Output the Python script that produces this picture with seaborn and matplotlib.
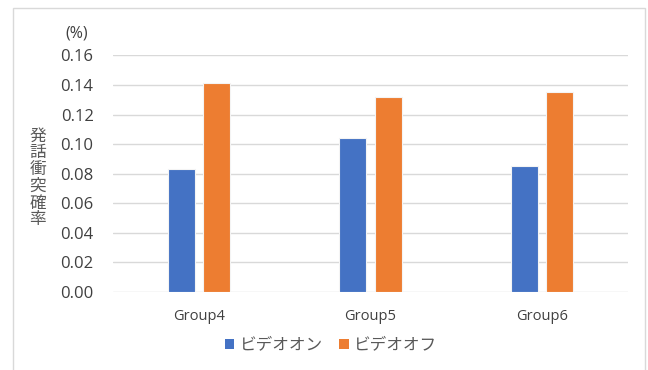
import matplotlib
matplotlib.use("Agg")
import matplotlib.pyplot as plt
from matplotlib.patches import Rectangle, Patch
import seaborn as sns
import pandas as pd

groups = ["Group4", "Group5", "Group6"]
series = ["ビデオオン", "ビデオオフ"]
video_on = [0.083, 0.104, 0.085]
video_off = [0.141, 0.132, 0.135]
yticks = [0.00, 0.02, 0.04, 0.06, 0.08, 0.10, 0.12, 0.14, 0.16]
ylabel = "発話衝突確率"
unit = "(%)"

colors = ["#4472C4", "#ED7D31"]
text_color = "#404040"
tick_color = "#595959"

df = pd.DataFrame({
    "group": groups * 2,
    "series": [series[0]] * 3 + [series[1]] * 3,
    "value": video_on + video_off,
})

sns.set_theme(style="white")
plt.rcParams["font.family"] = ["Open Sans", "Noto Sans CJK JP", "DejaVu Sans"]

W, H = 648, 370
fig = plt.figure(figsize=(W / 100, H / 100), dpi=100)
ax = fig.add_axes([113 / W, 1 - 292 / H, (628 - 113) / W, (292 - 55.2) / H])

sns.barplot(data=df, x="group", y="value", hue="series", order=groups,
            hue_order=series, palette=colors, width=0.41, gap=0.23,
            saturation=1, edgecolor="#f4f4f4", linewidth=0.8, ax=ax,
            legend=False, zorder=3)

ax.set_xlim(-0.5, 2.5)
ax.set_ylim(0, 0.1601)
ax.set_yticks(yticks)
ax.set_yticklabels([f"{v:.2f}" for v in yticks])
ax.yaxis.grid(True, color="#D9D9D9", linewidth=1.0, zorder=0)
ax.set_axisbelow(True)
for s in ax.spines.values():
    s.set_visible(False)
ax.tick_params(axis="y", length=0, pad=14, labelsize=12, labelcolor=text_color)
ax.tick_params(axis="x", length=0, pad=12, labelsize=10.5, labelcolor=text_color)
ax.set_xlabel("")
ax.set_ylabel("")

# vertical stacked axis title and unit label
fig.text(38 / W, 1 - 178 / H, "\n".join(ylabel), ha="center", va="center",
         fontsize=12, color=tick_color, linespacing=0.98,
         family=["Noto Sans CJK JP"])
fig.text(77 / W, 1 - 33 / H, unit, ha="center", va="center",
         fontsize=11.5, color=text_color)

handles = [Patch(facecolor=c, edgecolor="none") for c in colors]
fig.legend(handles, series, loc="center", bbox_to_anchor=(331 / W, 1 - 345 / H),
           ncol=2, frameon=False, handlelength=0.55, handleheight=0.55,
           handletextpad=0.35, columnspacing=1.0,
           prop={"family": ["Noto Sans CJK JP"], "size": 12},
           labelcolor=tick_color)

# chart area border
fig.add_artist(Rectangle((12.5 / W, -0.05), (645 - 12.5) / W, 1.05 - 8 / H,
                         transform=fig.transFigure, fill=False,
                         edgecolor="#D9D9D9", linewidth=1.0))

fig.savefig("out.png", dpi=100, facecolor="white")
